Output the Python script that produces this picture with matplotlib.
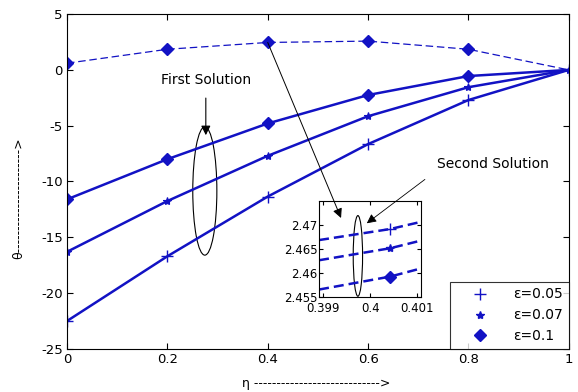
import matplotlib
matplotlib.use('Agg')
import matplotlib.pyplot as plt
from matplotlib.patches import Ellipse

plt.rcParams['font.family'] = ['DejaVu Sans']
plt.rcParams['axes.unicode_minus'] = False
plt.rcParams['xtick.direction'] = 'in'
plt.rcParams['ytick.direction'] = 'in'

# dimensionless coordinate
eta = [0, 0.2, 0.4, 0.6, 0.8, 1.0]

# first solution, theta(eta) for each epsilon
theta_first_005 = [-22.5, -16.7, -11.35, -6.65, -2.7, 0.0]
theta_first_007 = [-16.3, -11.75, -7.7, -4.15, -1.55, 0.0]
theta_first_01 = [-11.6, -8.0, -4.8, -2.25, -0.55, 0.0]

# second solution (curves for all epsilon lie on top of each other)
theta_second = [0.6, 1.85, 2.46, 2.58, 1.85, 0.0]

# close-up of the second solution near eta = 0.4
eta_zoom = [0.39891, 0.40043, 0.40109]
zoom_005 = [2.4668, 2.4691, 2.4706]
zoom_007 = [2.4626, 2.4651, 2.4667]
zoom_01 = [2.4565, 2.4592, 2.4609]

labels = ['ε=0.05', 'ε=0.07', 'ε=0.1']
blue = '#1212c4'

fig = plt.figure(figsize=(5.78, 3.92), dpi=100)
ax = fig.add_axes([0.116, 0.110, 0.868, 0.854])

ax.plot(eta, theta_second, '--', color=blue, lw=0.9, marker='D', ms=6,
        markevery=[0, 1, 2, 3, 4], dashes=(6, 3))
ax.plot(eta, theta_first_005, '-', color=blue, lw=1.8, marker='+', ms=8, mew=1.0)
ax.plot(eta, theta_first_007, '-', color=blue, lw=1.8, marker='*', ms=6, mew=0.8)
ax.plot(eta, theta_first_01, '-', color=blue, lw=1.8, marker='D', ms=6,
        markevery=[0, 1, 2, 3, 4])

ax.set_xlim(0, 1)
ax.set_ylim(-25, 5)
ax.set_xticks([0, 0.2, 0.4, 0.6, 0.8, 1])
ax.set_xticklabels(['0', '0.2', '0.4', '0.6', '0.8', '1'])
ax.set_yticks([-25, -20, -15, -10, -5, 0, 5])
ax.tick_params(top=True, right=True, labelsize=9.5, length=4, width=0.8, pad=3)
ax.set_xlabel('η ' + '-' * 28 + '>', fontsize=9)
ax.set_ylabel('θ' + '-' * 23 + '>', fontsize=9)
ax.xaxis.set_label_coords(0.496, -0.083)
ax.yaxis.set_label_coords(-0.084, 0.45)

# legend shows markers only
h1, = ax.plot([], [], '+', color=blue, ms=8)
h2, = ax.plot([], [], '*', color=blue, ms=6)
h3, = ax.plot([], [], 'D', color=blue, ms=6)
leg = ax.legend([h1, h2, h3], labels, loc='lower right', fontsize=10,
                fancybox=False, edgecolor='black', borderaxespad=0,
                handletextpad=0.6, borderpad=0.4, labelspacing=0.5,
                handlelength=3.6)
leg.get_frame().set_linewidth(0.8)

# mark the group of first-solution curves
ax.add_patch(Ellipse((0.2746, -10.85), 0.048, 11.5, fill=False, ec='black', lw=0.8))
ax.annotate('First Solution', xy=(0.2766, -5.85), xytext=(0.2766, -0.9),
            ha='center', va='center', fontsize=10,
            arrowprops=dict(arrowstyle='-|>', color='black', lw=0.8,
                            mutation_scale=14, shrinkA=6, shrinkB=0))

# inset with the close-up view
axin = fig.add_axes([0.552, 0.243, 0.1765, 0.245])
axin.plot(eta_zoom, zoom_005, '--', color=blue, lw=1.8, marker='+', ms=8,
          markevery=[1], dashes=(4, 2))
axin.plot(eta_zoom, zoom_007, '--', color=blue, lw=1.8, marker='*', ms=6,
          markevery=[1], dashes=(4, 2))
axin.plot(eta_zoom, zoom_01, '--', color=blue, lw=1.8, marker='D', ms=6,
          markevery=[1], dashes=(4, 2))
axin.set_xlim(0.39891, 0.40109)
axin.set_ylim(2.455, 2.475)
axin.set_xticks([0.399, 0.4, 0.401])
axin.set_xticklabels(['0.399', '0.4', '0.401'])
axin.set_yticks([2.455, 2.46, 2.465, 2.47])
axin.set_yticklabels(['2.455', '2.46', '2.465', '2.47'])
axin.tick_params(top=True, right=True, labelsize=8.5, length=3, width=0.8)
axin.tick_params(axis='x', pad=3.5)
axin.tick_params(axis='y', pad=1)
axin.add_patch(Ellipse((0.39974, 2.4635), 0.0002, 0.0168, fill=False,
                       ec='black', lw=0.8))

# arrow from the dashed curve into the inset
axin.annotate('', xy=(0.39938, 2.4714), xytext=(0.4, 2.46),
              textcoords=ax.transData, annotation_clip=False,
              arrowprops=dict(arrowstyle='-|>', color='black', lw=0.7,
                              mutation_scale=14, shrinkA=0, shrinkB=0))
axin.annotate('Second Solution', xy=(0.39993, 2.4703), xytext=(0.848, -8.4),
              textcoords=ax.transData, annotation_clip=False,
              ha='center', va='center', fontsize=10,
              arrowprops=dict(arrowstyle='-|>', color='black', lw=0.6,
                              mutation_scale=14, shrinkA=8, shrinkB=0,
                              relpos=(0.0, 0.0)))

fig.savefig('out.png', dpi=100)
